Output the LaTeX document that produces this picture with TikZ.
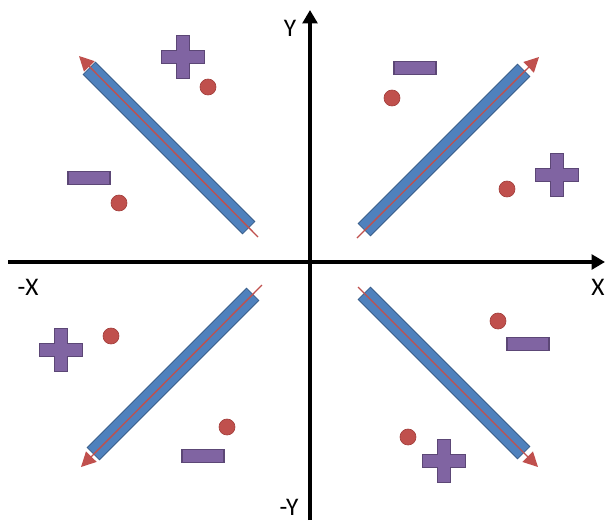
\documentclass[tikz,border=0pt]{standalone}
\usepackage{fontspec}
\setmainfont{Carlito}
\usetikzlibrary{arrows.meta}
\definecolor{signfill}{HTML}{8064A2}
\definecolor{signline}{HTML}{5C4776}
\definecolor{barfill}{HTML}{4F81BD}
\definecolor{barline}{HTML}{385D8A}
\definecolor{dotfill}{HTML}{C0504D}
\definecolor{dotline}{HTML}{A33F3C}

\begin{document}
\begin{tikzpicture}[x=0.75pt,y=-0.75pt,
      font=\fontsize{19}{22}\selectfont,
      axis/.style={line width=3pt,black,-{Triangle[length=10pt,width=11pt]}},
      axlabel/.style={inner sep=0pt},
      bar/.style={draw=barline,fill=barfill,line width=0.6pt,inner sep=0pt,
                  minimum width=169pt,minimum height=13pt},
      ray/.style={draw=dotfill,line width=1pt,-{Triangle[length=11pt,width=11pt]}},
      dot/.style={circle,draw=dotline,fill=dotfill,line width=0.5pt,
                  inner sep=0pt,minimum size=12pt},
      minus/.style={rectangle,draw=signline,fill=signfill,line width=0.8pt,
                    inner sep=0pt,minimum width=31.5pt,minimum height=9.5pt},
      plus/.style={draw=signline,fill=signfill,line width=0.8pt}]
    \useasboundingbox (0,0) rectangle (606,522);
    % axes
    \coordinate (xl) at (8,262);
    \coordinate (xr) at (605,262);
    \coordinate (yb) at (310,520);
    \coordinate (yt) at (310,10);
    \draw[axis] (xl) -- (xr);
    \draw[axis] (yb) -- (yt);
    \node[axlabel] (ly)  at (290,28)  {Y};
    \node[axlabel] (lmx) at (28,287)  {-X};
    \node[axlabel] (lx)  at (598,287) {X};
    \node[axlabel] (lmy) at (289,507) {-Y};
    % bars with their rays
    \coordinate (tlA) at (258,237); \coordinate (tlB) at (79,56);
    \coordinate (trA) at (357,238); \coordinate (trB) at (539,57);
    \coordinate (blA) at (262,285); \coordinate (blB) at (81,467);
    \coordinate (brA) at (358,287); \coordinate (brB) at (538,467);
    \node[bar,rotate=-45] (barTL) at (169,148) {};
    \node[bar,rotate=45]  (barTR) at (444,150) {};
    \node[bar,rotate=45]  (barBL) at (173,374) {};
    \node[bar,rotate=-45] (barBR) at (444,373) {};
    \draw[ray] (tlA) -- (tlB);
    \draw[ray] (trA) -- (trB);
    \draw[ray] (blA) -- (blB);
    \draw[ray] (brA) -- (brB);
    % charges
    \node[dot] (dTL1) at (208,87)  {};
    \node[dot] (dTL2) at (119,203) {};
    \node[dot] (dTR1) at (392,98)  {};
    \node[dot] (dTR2) at (507,189) {};
    \node[dot] (dBL1) at (111,336) {};
    \node[dot] (dBL2) at (227,427) {};
    \node[dot] (dBR1) at (498,321) {};
    \node[dot] (dBR2) at (408,437) {};
    \node[minus] (mTL) at (89,178)  {};
    \node[minus] (mTR) at (415,68)  {};
    \node[minus] (mBL) at (203,456) {};
    \node[minus] (mBR) at (528,344) {};
    \foreach \cx/\cy in {183/57, 557/175, 61/350, 444/461}
      \draw[plus,shift={(\cx,\cy)}] (-21.5,-6.5) -- (-6.5,-6.5) -- (-6.5,-21.5)
        -- (6.5,-21.5) -- (6.5,-6.5) -- (21.5,-6.5) -- (21.5,6.5) -- (6.5,6.5)
        -- (6.5,21.5) -- (-6.5,21.5) -- (-6.5,6.5) -- (-21.5,6.5) -- cycle;
  \end{tikzpicture}
\end{document}
